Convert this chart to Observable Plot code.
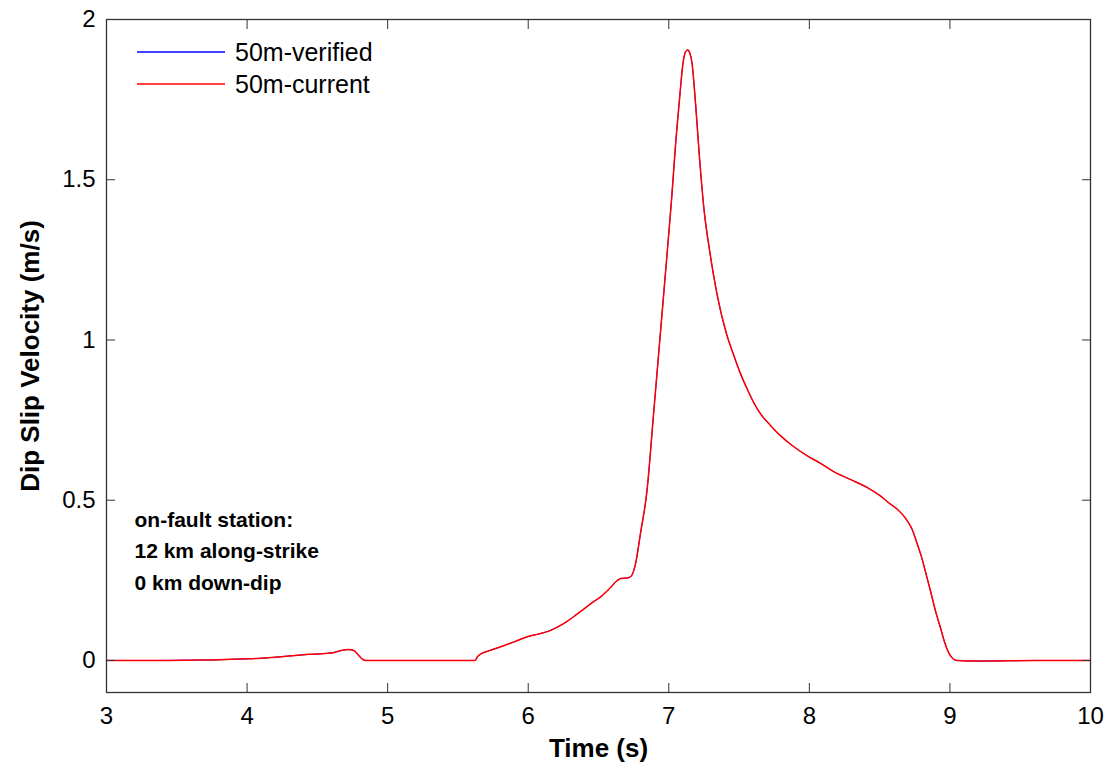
<!DOCTYPE html>
<html>
<head>
<meta charset="utf-8">
<script src="https://cdn.jsdelivr.net/npm/d3@7"></script>
<script src="https://cdn.jsdelivr.net/npm/@observablehq/plot@0.6"></script>
<style>
  html, body { margin: 0; padding: 0; background: #fff; }
  #wrap { position: relative; width: 1112px; height: 765px; }
  #legend { position: absolute; left: 137px; top: 36px; font-family: "Liberation Sans", Arial, sans-serif; font-size: 25px; color: #000; }
  .row { display: flex; align-items: center; height: 32px; }
  .row svg { margin-right: 10px; }
</style>
</head>
<body>
<div id="wrap"><div id="legend"></div></div>
<script>
const time = [3.0, 3.4, 3.6, 3.8, 4.0, 4.1, 4.2, 4.3, 4.38, 4.44, 4.5, 4.56, 4.62, 4.67, 4.72, 4.76, 4.79, 4.82, 4.84,
  5.62, 5.64, 5.67, 5.72, 5.8, 5.9, 6.0, 6.08, 6.16, 6.22, 6.28, 6.34, 6.4, 6.46, 6.52, 6.58, 6.63, 6.66, 6.70, 6.73, 6.76,
  6.80, 6.845, 6.89, 6.94, 6.99, 7.02, 7.05, 7.08, 7.10, 7.12, 7.135, 7.15, 7.165, 7.19, 7.22, 7.25, 7.29, 7.34, 7.41,
  7.46, 7.51, 7.56, 7.61, 7.66, 7.72, 7.79, 7.88, 7.98, 8.08, 8.17, 8.29, 8.41, 8.5, 8.57, 8.63, 8.69, 8.73, 8.77, 8.80, 8.83,
  8.86, 8.9, 8.93, 8.96, 8.99, 9.02, 9.05, 9.2, 9.4, 9.6, 10.0];
const current = [0, 0, 0.001, 0.002, 0.005, 0.007, 0.010, 0.014, 0.017, 0.019, 0.020, 0.022, 0.025, 0.031, 0.034, 0.031, 0.018, 0.004, 0,
  0, 0.012, 0.022, 0.030, 0.042, 0.058, 0.075, 0.083, 0.094, 0.107, 0.123, 0.142, 0.162, 0.182, 0.200, 0.225, 0.248, 0.256, 0.257, 0.262, 0.295,
  0.40, 0.53, 0.76, 1.02, 1.28, 1.44, 1.62, 1.77, 1.86, 1.90, 1.905, 1.895, 1.865, 1.74, 1.56, 1.41, 1.28, 1.15, 1.02,
  0.955, 0.895, 0.845, 0.80, 0.765, 0.735, 0.703, 0.67, 0.64, 0.615, 0.59, 0.565, 0.54, 0.515, 0.49, 0.47, 0.44, 0.41, 0.36, 0.32, 0.27,
  0.22, 0.15, 0.106, 0.06, 0.025, 0.006, 0, -0.002, -0.001, 0, 0];
// the verified trace lies exactly under the current one in the picture
const verified = current.slice();
const xTicks = [3, 4, 5, 6, 7, 8, 9, 10];
const yTicks = [0, 0.5, 1, 1.5, 2];
const seriesNames = ["50m-verified", "50m-current"];
const seriesColors = ["#0000ff", "#ff0000"];
const xLabel = "Time (s)";
const yLabel = "Dip Slip Velocity (m/s)";
const note = "on-fault station:\n12 km along-strike\n0 km down-dip";

const verifiedRows = time.map((t, i) => ({t, v: verified[i], s: seriesNames[0]}));
const currentRows = time.map((t, i) => ({t, v: current[i], s: seriesNames[1]}));

const font = "'Liberation Sans', Arial, Helvetica, sans-serif";
const fmt = d => String(d);

const chart = Plot.plot({
  width: 1112, height: 765,
  marginLeft: 106, marginRight: 22, marginTop: 19, marginBottom: 73,
  style: {fontFamily: font, fontSize: "24px", color: "#000", background: "#fff", overflow: "visible"},
  x: {domain: [3, 10]},
  y: {domain: [-0.1, 2]},
  color: {domain: seriesNames, range: seriesColors},
  marks: [
    Plot.line(verifiedRows, {x: "t", y: "v", stroke: "s", strokeWidth: 1, curve: "monotone-x"}),
    Plot.line(currentRows, {x: "t", y: "v", stroke: "s", strokeWidth: 1.5, curve: "monotone-x"}),
    Plot.frame({stroke: "#333", strokeWidth: 1.3}),
    Plot.axisX(xTicks, {anchor: "bottom", tickSize: 0, tickPadding: 14, tickFormat: fmt, fontSize: 24, label: null}),
    Plot.axisX(xTicks, {anchor: "bottom", tickSize: -9, tickFormat: () => "", label: null, stroke: "#333"}),
    Plot.axisX(xTicks, {anchor: "top", tickSize: -9, tickFormat: () => "", label: null, stroke: "#333"}),
    Plot.axisY(yTicks, {anchor: "left", tickSize: 0, tickPadding: 11, tickFormat: fmt, fontSize: 24, label: null}),
    Plot.axisY(yTicks, {anchor: "left", tickSize: -9, tickFormat: () => "", label: null, stroke: "#333"}),
    Plot.axisY(yTicks, {anchor: "right", tickSize: -9, tickFormat: () => "", label: null, stroke: "#333"}),
    Plot.text([xLabel], {frameAnchor: "bottom", dy: 56, lineAnchor: "middle", fontSize: 26, fontWeight: "bold", fill: "#000"}),
    Plot.text([yLabel], {frameAnchor: "left", dx: -76, rotate: -90, textAnchor: "middle", fontSize: 26, fontWeight: "bold", fill: "#000"}),
    Plot.text([note], {frameAnchor: "left", textAnchor: "start", dx: 28, dy: 192, lineHeight: 1.5, fontSize: 21, fontWeight: "bold", fill: "#000"})
  ]
});
document.getElementById("wrap").prepend(chart);

const legend = d3.select("#legend");
seriesNames.forEach((name, i) => {
  const row = legend.append("div").attr("class", "row");
  const svg = row.append("svg").attr("width", 88).attr("height", 4);
  svg.append("line").attr("x1", 0).attr("x2", 88).attr("y1", 2).attr("y2", 2)
    .attr("stroke", seriesColors[i]).attr("stroke-width", 1.3);
  row.append("span").text(name);
});
</script>
</body>
</html>
